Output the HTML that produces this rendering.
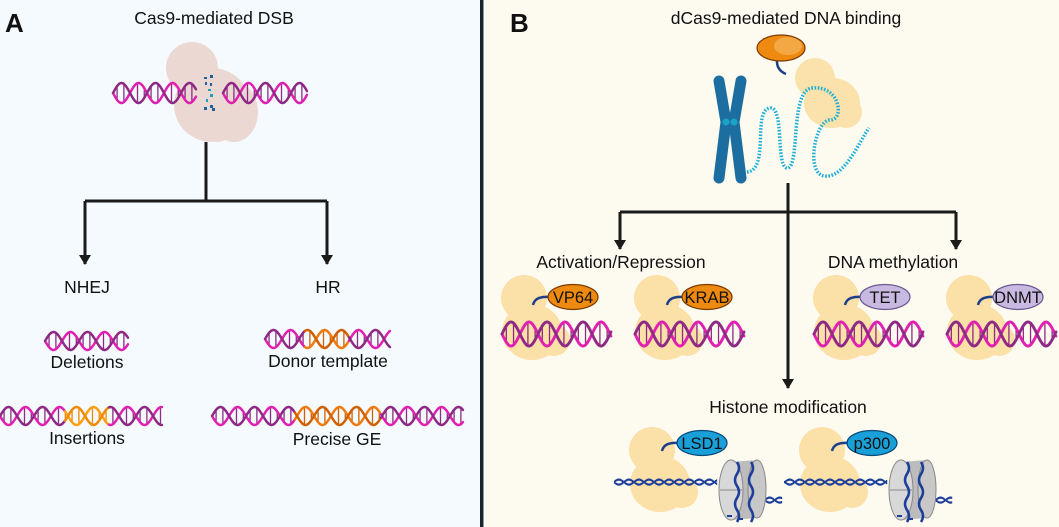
<!DOCTYPE html>
<html><head><meta charset="utf-8"><style>
html,body{margin:0;padding:0;width:1059px;height:527px;overflow:hidden;background:#fdfaf0}
svg{display:block}
text{font-family:"Liberation Sans",Arial,sans-serif;fill:#111}
</style></head><body>
<svg id="s" width="1059" height="527" viewBox="0 0 1059 527" xmlns="http://www.w3.org/2000/svg">
<defs>
<marker id="ar" markerWidth="12" markerHeight="12" refX="9" refY="6" orient="auto" markerUnits="userSpaceOnUse">
<path d="M0,0 L10,6 L0,12 Z" fill="#1a1a1a"/></marker>
</defs>
<rect x="0" y="0" width="481" height="527" fill="#f4fafd"/>
<rect x="483" y="0" width="576" height="527" fill="#fdfaf0"/>
<rect x="480" y="0" width="3" height="527" fill="#222"/>
<rect x="483" y="0" width="1" height="527" fill="#6aa8c8"/>

<text x="5" y="32" font-size="26" font-weight="bold">A</text>
<text x="214" y="24" font-size="17.5" text-anchor="middle">Cas9-mediated DSB</text>
<g fill="#ecd8d3">
<circle cx="192" cy="68" r="26"/>
<ellipse cx="212" cy="105" rx="38" ry="37"/>
<ellipse cx="234" cy="112" rx="24" ry="30"/>
<circle cx="218" cy="128" r="14"/>
</g>
<g fill="#1f5f9a">
<rect x="204" y="77" width="3" height="2"/><rect x="210" y="75" width="3" height="3"/>
<rect x="205" y="82" width="2" height="3"/><rect x="210" y="83" width="2" height="3"/>
<rect x="208" y="89" width="3" height="2" fill="#1aa0b8"/><rect x="210" y="94" width="3" height="3" fill="#1aa0b8"/>
<rect x="206" y="99" width="2" height="3" fill="#1aa0b8"/><rect x="204" y="107" width="3" height="3"/><rect x="210" y="105" width="3" height="3"/><rect x="212" y="108" width="3" height="3"/>
</g>
<g stroke="#1a1a1a" stroke-width="3" fill="none">
<path d="M206,142 V201"/>
<path d="M85,201 H327"/>
<path d="M85,201 V264" marker-end="url(#ar)"/>
<path d="M327,201 V264" marker-end="url(#ar)"/>
</g>
<text x="87" y="293" font-size="17.5" text-anchor="middle">NHEJ</text>
<text x="328" y="293" font-size="17.5" text-anchor="middle">HR</text>
<text x="87" y="368" font-size="17.5" text-anchor="middle">Deletions</text>
<text x="328" y="367" font-size="17.5" text-anchor="middle">Donor template</text>
<text x="87" y="444" font-size="17.5" text-anchor="middle">Insertions</text>
<text x="337" y="445" font-size="17.5" text-anchor="middle">Precise GE</text>

<text x="510" y="32" font-size="26" font-weight="bold">B</text>
<text x="786" y="24" font-size="17.5" text-anchor="middle">dCas9-mediated DNA binding</text>
<g fill="#fbe0a8" opacity="0.95">
<circle cx="815" cy="78" r="20"/>
<ellipse cx="832" cy="103" rx="28" ry="25"/>
<circle cx="846" cy="112" r="16"/>
</g>
<path d="M777,59 Q776,70 786,74" stroke="#1d3f8a" stroke-width="2.5" fill="none"/>
<ellipse cx="781" cy="48" rx="24" ry="13" fill="#ee8a10" stroke="#7a3c00" stroke-width="1.2"/>
<ellipse cx="788" cy="46" rx="14" ry="9" fill="#f4a844"/>
<g stroke="#1d6ea0" stroke-width="11" stroke-linecap="round" stroke-linejoin="round" fill="none">
<path d="M719,81 L726,122 L719,178"/>
<path d="M741,81 L734,122 L741,178"/>
</g>
<circle cx="726" cy="122" r="3.5" fill="#1ba2c8"/><circle cx="734" cy="122" r="3.5" fill="#1ba2c8"/>
<path d="M747,172 C770,170 752,110 770,108 C785,106 775,170 788,168 C800,165 790,90 812,88 C840,85 845,120 830,120 C815,120 805,175 825,176 C845,178 860,140 869,128" stroke="#1bb0d8" stroke-width="3.5" stroke-dasharray="1.6 1.6" fill="none"/>
<g stroke="#1a1a1a" stroke-width="3" fill="none">
<path d="M788,183 V388" marker-end="url(#ar)"/>
<path d="M620,212 H956"/>
<path d="M620,212 V249" marker-end="url(#ar)"/>
<path d="M956,212 V249" marker-end="url(#ar)"/>
</g>
<text x="621" y="268" font-size="17.5" text-anchor="middle">Activation/Repression</text>
<text x="893" y="268" font-size="17.5" text-anchor="middle">DNA methylation</text>
<text x="788" y="413" font-size="17.5" text-anchor="middle">Histone modification</text>
</svg>
<script>
var NS="http://www.w3.org/2000/svg",S=document.getElementById('s');
function el(t,a,p){var e=document.createElementNS(NS,t);for(var k in a)e.setAttribute(k,a[k]);(p||S).appendChild(e);return e;}
function helix(x0,x1,yc,amp,per,segs,sw){
 sw=sw||2.4;
 function col(x,i){for(var s of (segs||[])){if(x>=s[0]&&x<=s[1])return i?s[3]:s[2];}return i?"#8e2a84":"#e021b0";}
 for(var x=x0+per*0.12;x<x1;x+=per/5){var a=Math.sin((x-x0)/per*2*Math.PI)*amp;if(Math.abs(a)<amp*0.35)continue;
  el('line',{x1:x,y1:yc-a,x2:x,y2:yc+a,stroke:col(x,1),'stroke-width':1.3});}
 for(var i=0;i<2;i++){var step=1;for(var x=x0;x<x1;x+=step){var xe=Math.min(x+step,x1);
  var f=function(v){return yc+(i?-1:1)*Math.sin((v-x0)/per*2*Math.PI)*amp;};
  el('line',{x1:x,y1:f(x),x2:xe,y2:f(xe),stroke:col(x,i),'stroke-width':sw,'stroke-linecap':'round'});}}
}
helix(113,196,93,10,34);
helix(223,307,93,10,34);
helix(45,128,341,9,34);
helix(265,390,339,9,34,[[305,348,"#ef7a10","#d06000"]]);
helix(0,162,416,9,34,[[65,108,"#ffa010","#f08a00"]]);
helix(212,463,416,9,34,[[295,380,"#ef7a10","#d06000"]]);
function blob(cx,cy){var g=el('g',{fill:'#fbe0a8'});
 el('ellipse',{cx:cx,cy:cy-20,rx:23,ry:23},g);el('ellipse',{cx:cx+8,cy:cy+14,rx:30,ry:28},g);el('circle',{cx:cx+30,cy:cy+22,r:16},g);}
function effector(cx,cy,label,fill,stroke){
 el('path',{d:'M'+(cx-40)+','+(cy+8)+' Q'+(cx-38)+','+(cy-1)+' '+(cx-24)+','+(cy),stroke:'#1d3f8a','stroke-width':2.5,fill:'none'});
 el('ellipse',{cx:cx,cy:cy,rx:25,ry:12.5,fill:fill,stroke:stroke,'stroke-width':1.2});
 var t=el('text',{x:cx,y:cy+6,'font-size':16.5,'text-anchor':'middle'});t.textContent=label;}
var it=[[502,573,"VP64","#ee8a10","#7a3c00"],[635,707,"KRAB","#ee8a10","#7a3c00"],[814,885,"TET","#c9b9e0","#6a5a90"],[947,1018,"DNMT","#c9b9e0","#6a5a90"]];
it.forEach(function(o){blob(o[0]+22,318);helix(o[0],o[0]+109,334,12,36,null,2.8);effector(o[1],297,o[2],o[3],o[4]);});
function histone(x0,lab){
 blob(x0+30,470);
 for(var k=0;k<2;k++)for(var x=x0-8;x<x0+95;x+=1){var y=482+Math.sin((x)/3.2+k*Math.PI)*2.5;el('rect',{x:x,y:y-1,width:1.2,height:2.2,fill:'#1d3f9a'});}
 for(var k=0;k<2;k++)for(var x=x0+133;x<x0+160;x+=1){var y=500+Math.sin((x)/3.2+k*Math.PI)*2.5;el('rect',{x:x,y:y-1,width:1.2,height:2.2,fill:'#1d3f9a'});}
 var nx=x0+95;
 el('path',{d:'M'+(nx+14)+',462 L'+(nx+40)+',460 L'+(nx+40)+',518 L'+(nx+14)+',520 Z',fill:'#bcbcbc'});
 el('ellipse',{cx:nx+14,cy:490,rx:12,ry:30,fill:'#d8d8d8',stroke:'#888','stroke-width':1});
 el('ellipse',{cx:nx+40,cy:489,rx:9,ry:29,fill:'#c8c8c8',stroke:'#888','stroke-width':1});
 el('line',{x1:nx+3,y1:490,x2:nx+25,y2:490,stroke:'#888'});
 for(var j=0;j<2;j++){var bx=nx+20+j*14;
  el('path',{d:'M'+bx+',462 q4,6 0,12 q-4,6 0,12 q4,6 0,12 q-4,6 0,12 q4,6 0,12',stroke:'#1d3f9a','stroke-width':2.5,fill:'none'});}
 el('rect',{x:nx+10,y:515,width:5,height:2,fill:'#1d3f9a'});el('rect',{x:nx+22,y:518,width:4,height:2,fill:'#1d3f9a'});
 effector(x0+80,443,lab,'#1aa0d8','#0a4a7a');
}
histone(622,"LSD1");
histone(792,"p300");
</script>
</body></html>
